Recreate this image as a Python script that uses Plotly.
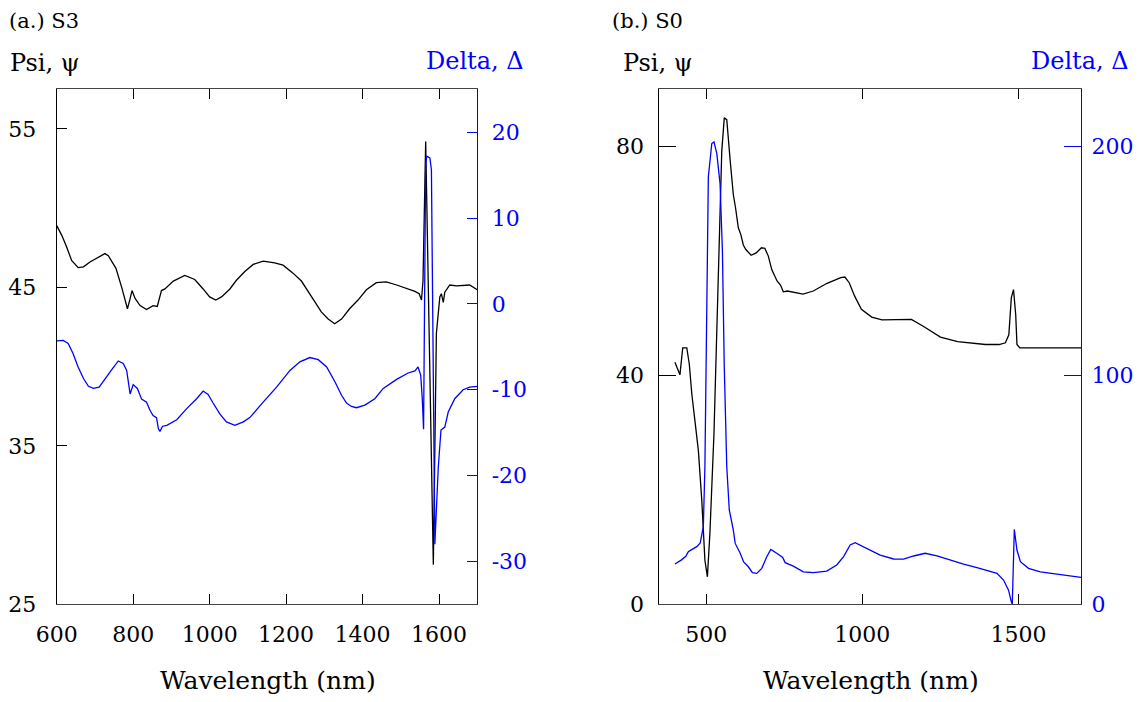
import plotly.graph_objects as go

# ---------------- data ----------------
# (a.) S3
s3_psi_wl = [600, 613, 626, 639, 656, 670, 687, 709, 726, 735, 755, 770, 785, 791, 797, 805, 818, 835,
             852, 863, 868, 874, 883, 905, 935, 961, 983, 1000, 1016, 1031, 1053, 1070, 1092, 1114,
             1140, 1170, 1192, 1218, 1240, 1266, 1292, 1310, 1327, 1345, 1366, 1388, 1410, 1436,
             1462, 1489, 1519, 1537, 1548, 1554, 1558, 1561, 1564, 1565, 1585, 1593, 1602, 1606,
             1611, 1615, 1628, 1646, 1680, 1700]
s3_psi = [48.9, 48.3, 47.55, 46.7, 46.25, 46.3, 46.6, 46.9, 47.13, 47.0, 46.2, 45.0, 43.65, 44.2, 44.8,
          44.3, 43.85, 43.6, 43.85, 43.8, 44.2, 44.8, 44.9, 45.4, 45.75, 45.5, 44.9, 44.4, 44.2, 44.4,
          44.9, 45.45, 46.0, 46.45, 46.65, 46.55, 46.4, 45.9, 45.4, 44.45, 43.45, 43.0, 42.7, 43.0,
          43.65, 44.2, 44.85, 45.3, 45.35, 45.15, 44.9, 44.75, 44.6, 44.2, 45.4, 49.7, 54.2, 54.2,
          27.5, 42.1, 44.4, 44.6, 44.05, 44.7, 45.15, 45.1, 45.15, 44.85]

s3_delta_wl = [600, 617, 630, 643, 656, 670, 683, 696, 711, 726, 744, 761, 774, 783, 787, 792, 800, 811,
               822, 835, 844, 852, 861, 866, 870, 877, 888, 914, 940, 966, 983, 996, 1009, 1027,
               1044, 1066, 1088, 1105, 1140, 1175, 1210, 1236, 1262, 1284, 1306, 1328, 1345, 1358,
               1371, 1384, 1406, 1432, 1454, 1489, 1519, 1537, 1545, 1552, 1556, 1559.5, 1565,
               1568, 1576, 1580, 1589, 1598, 1605, 1615, 1624, 1641, 1663, 1680, 1700]
s3_delta = [-4.3, -4.25, -4.6, -5.8, -7.35, -8.7, -9.6, -9.85, -9.7, -8.7, -7.65, -6.65, -6.95, -7.75,
            -9.1, -10.5, -9.4, -9.85, -11.1, -11.45, -12.4, -13.0, -13.25, -14.55, -14.85, -14.25,
            -14.15, -13.5, -12.2, -11.05, -10.15, -10.55, -11.55, -12.85, -13.75, -14.15, -13.75,
            -13.25, -11.45, -9.7, -7.75, -6.75, -6.25, -6.5, -7.35, -9.1, -10.65, -11.55, -11.95,
            -12.1, -11.8, -11.05, -9.85, -8.8, -8.05, -7.8, -7.35, -8.3, -11.0, -14.6, 16.5, 17.2,
            17.0, 15.6, -28.0, -19.0, -14.7, -14.35, -12.6, -11.05, -10.0, -9.7, -9.6]

# (b.) S0
s0_psi_wl = [400, 416, 425, 438, 446, 454, 464, 475, 486, 496, 504, 512, 525, 539, 550, 558, 566, 577,
             587, 594, 603, 611, 619, 627, 644, 660, 677, 688, 699, 710, 727, 738, 747, 760, 777,
             810, 843, 887, 931, 944, 958, 975, 997, 1030, 1063, 1107, 1157, 1195, 1250, 1305,
             1350, 1394, 1438, 1458, 1469, 1477, 1484, 1491, 1495, 1504, 1592, 1700]
s0_psi = [42.3, 40.1, 44.8, 44.8, 42.0, 36.8, 32.1, 26.9, 18.2, 7.7, 4.8, 12.4, 29.8, 58.8, 79.2, 85.0,
          84.7, 77.5, 71.6, 69.3, 65.8, 64.6, 62.8, 62.0, 61.0, 61.4, 62.3, 62.2, 60.85, 58.5, 56.5,
          55.8, 54.6, 54.75, 54.6, 54.2, 54.75, 56.1, 57.1, 57.2, 56.2, 53.9, 51.55, 50.2, 49.7, 49.8,
          49.8, 48.6, 46.7, 45.9, 45.6, 45.4, 45.4, 45.7, 47.1, 53.6, 55.0, 50.6, 45.4, 44.8, 44.8,
          44.8]

s0_delta_wl = [400, 420, 435, 443, 455, 470, 481, 491, 496, 502, 507, 518, 525, 534, 544.5, 552, 558,
               566, 571, 574, 587, 593, 609, 620, 635, 648, 662, 678, 694, 707, 726, 745, 753, 763,
               779, 811, 843, 886, 918, 940, 961, 977, 1015, 1057, 1100, 1132, 1164, 1201, 1239,
               1282, 1324, 1367, 1410, 1431, 1452, 1468, 1477, 1480, 1486.5, 1495, 1506, 1532,
               1570, 1623, 1700]
s0_delta = [17.6, 19.3, 21.0, 23.0, 24.0, 25.2, 26.8, 33.9, 60.1, 125.6, 186.7, 201.3, 202.0, 197.0,
            183.8, 154.7, 103.8, 60.1, 45.5, 41.2, 32.4, 26.6, 22.3, 18.5, 16.4, 13.8, 13.5, 15.7,
            20.8, 24.0, 22.3, 20.5, 18.2, 17.6, 16.7, 14.2, 13.8, 14.5, 17.2, 20.8, 25.9, 26.9, 24.5,
            21.5, 19.8, 19.7, 21.1, 22.3, 21.2, 19.3, 17.5, 16.0, 14.5, 13.5, 10.6, 6.2, 1.1, 0.0,
            32.7, 23.7, 18.6, 15.7, 14.2, 13.2, 11.8]

# ticks
s3_x_ticks = [600, 800, 1000, 1200, 1400, 1600]
s3_psi_ticks = [25, 35, 45, 55]
s3_delta_ticks = [-30, -20, -10, 0, 10, 20]
s0_x_ticks = [500, 1000, 1500]
s0_psi_ticks = [0, 40, 80]
s0_delta_ticks = [0, 100, 200]

# ---------------- figure ----------------
# the page body adds an 8 px margin on every side; size/position the figure to compensate
OFF = 8
W, H = 1141 - 2 * OFF, 702 - 2 * OFF
FONT = "DejaVu Serif"
BLUE = "#0000ff"


def fx(p):
    return (p - OFF) / W


def fy(p):
    return 1 - (p - OFF) / H


fig = go.Figure()
fig.add_trace(go.Scatter(x=s3_psi_wl, y=s3_psi, xaxis="x", yaxis="y", mode="lines",
                         line=dict(color="black", width=1.3), showlegend=False))
fig.add_trace(go.Scatter(x=s3_delta_wl, y=s3_delta, xaxis="x", yaxis="y2", mode="lines",
                         line=dict(color=BLUE, width=1.3), showlegend=False))
fig.add_trace(go.Scatter(x=s0_psi_wl, y=s0_psi, xaxis="x2", yaxis="y3", mode="lines",
                         line=dict(color="black", width=1.3), showlegend=False))
fig.add_trace(go.Scatter(x=s0_delta_wl, y=s0_delta, xaxis="x2", yaxis="y4", mode="lines",
                         line=dict(color=BLUE, width=1.3), showlegend=False))

ydom = [fy(604.3), fy(89.3)]
tf_black = dict(family=FONT, size=22, color="black")
tf_blue = dict(family=FONT, size=22, color=BLUE)

common_x = dict(ticks="inside", ticklen=10, tickcolor="black", tickwidth=1, showline=True,
                linecolor="#444", linewidth=1, mirror="ticks", showgrid=False, zeroline=False,
                tickfont=tf_black, tickmode="array", ticklabelstandoff=10, automargin=False)
common_y = dict(ticks="inside", showline=True, linewidth=1, showgrid=False, zeroline=False,
                tickmode="array", automargin=False)

fig.update_layout(
    width=W, height=H,
    margin=dict(l=0, r=0, t=0, b=0),
    paper_bgcolor="white", plot_bgcolor="white",
    xaxis=dict(domain=[fx(56.7), fx(477.3)], range=[600, 1700], anchor="y",
               tickvals=s3_x_ticks, ticktext=[str(v) for v in s3_x_ticks], **common_x),
    yaxis=dict(domain=ydom, range=[25, 57.5], anchor="x", tickvals=s3_psi_ticks,
               ticktext=[str(v) for v in s3_psi_ticks], ticklen=10, tickcolor="black",
               linecolor="black", tickfont=tf_black, ticklabelstandoff=15, **common_y),
    yaxis2=dict(overlaying="y", side="right", range=[-35, 25], anchor="x",
                tickvals=s3_delta_ticks, ticktext=[str(v) for v in s3_delta_ticks], ticklen=10,
                tickcolor=BLUE, linecolor=BLUE, tickfont=tf_blue, ticklabelstandoff=9, **common_y),
    xaxis2=dict(domain=[fx(659.3), fx(1081)], range=[350, 1700], anchor="y3",
                tickvals=s0_x_ticks, ticktext=[str(v) for v in s0_x_ticks], **common_x),
    yaxis3=dict(domain=ydom, range=[0, 90], anchor="x2", tickvals=s0_psi_ticks,
                ticktext=[str(v) for v in s0_psi_ticks], ticklen=17, tickcolor="black",
                linecolor="black", tickfont=tf_black, ticklabelstandoff=10, **common_y),
    yaxis4=dict(overlaying="y3", side="right", range=[0, 225], anchor="x2",
                tickvals=s0_delta_ticks, ticktext=[str(v) for v in s0_delta_ticks], ticklen=17,
                tickcolor=BLUE, linecolor=BLUE, tickfont=tf_blue, ticklabelstandoff=5, **common_y),
)

ann = []


def add_text(text, x, y, xanchor, size, color="black"):
    ann.append(dict(text=text, x=fx(x), y=fy(y), xref="paper", yref="paper", xanchor=xanchor,
                    yanchor="middle", showarrow=False, font=dict(family=FONT, size=size, color=color)))


add_text("(a.) S3", 7, 21, "left", 21)
add_text("(b.) S0", 610, 21, "left", 21)
add_text("Psi, \u03c8", 8, 63, "left", 24)
add_text("Psi, \u03c8", 621, 63, "left", 24)
add_text("Delta, \u0394", 526, 61, "right", 24, BLUE)
add_text("Delta, \u0394", 1131, 61, "right", 24, BLUE)
add_text("Wavelength (nm)", 268, 680, "center", 25)
add_text("Wavelength (nm)", 871, 680, "center", 25)
fig.update_layout(annotations=ann)

fig.write_html("out.html")
